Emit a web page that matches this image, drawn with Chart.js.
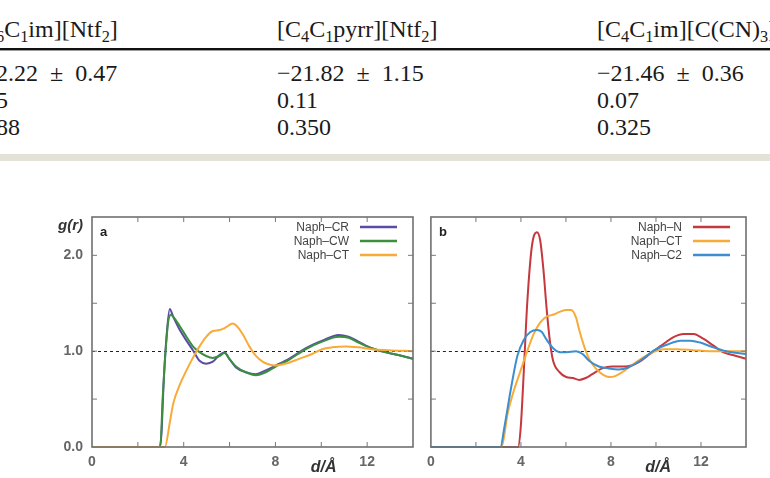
<!DOCTYPE html>
<html><head><meta charset="utf-8">
<script src="https://cdn.jsdelivr.net/npm/chart.js@4.4.1/dist/chart.umd.min.js"></script>
<style>
html,body{margin:0;padding:0;background:#fff;}
body{width:770px;height:478px;position:relative;overflow:hidden;font-family:"Liberation Serif","DejaVu Serif",serif;}
.t{position:absolute;font-size:24px;line-height:26px;color:#1a1a1a;white-space:nowrap;}
.t sub,.t .sb{font-size:0.68em;vertical-align:-0.28em;line-height:0;}
#rule1{position:absolute;left:0;top:48px;width:770px;height:2px;background:#111;}
#rule2{position:absolute;left:0;top:50px;width:770px;height:1px;background:#9a9a9a;}
#band{position:absolute;left:0;top:154px;width:770px;height:7px;background:#e4e2d7;}
#ca{position:absolute;left:0;top:190px;}
#cb{position:absolute;left:420px;top:190px;}
</style></head>
<body>
<div class="t" style="left:-4px;top:16px"><span class="sb">6</span>C<sub>1</sub>im][Ntf<sub>2</sub>]</div>
<div class="t" style="left:277px;top:16px">[C<sub>4</sub>C<sub>1</sub>pyrr][Ntf<sub>2</sub>]</div>
<div class="t" style="left:597px;top:16px">[C<sub>4</sub>C<sub>1</sub>im][C(CN)<sub>3</sub>]</div>
<div id="rule1"></div><div id="rule2"></div>
<div class="t" style="left:-4px;top:60px">2.22&ensp;±&ensp;0.47</div>
<div class="t" style="left:277px;top:60px">−21.82&ensp;±&ensp;1.15</div>
<div class="t" style="left:597px;top:60px">−21.46&ensp;±&ensp;0.36</div>
<div class="t" style="left:-4px;top:87px">5</div>
<div class="t" style="left:277px;top:87px">0.11</div>
<div class="t" style="left:597px;top:87px">0.07</div>
<div class="t" style="left:-4px;top:114px">88</div>
<div class="t" style="left:277px;top:114px">0.350</div>
<div class="t" style="left:597px;top:114px">0.325</div>
<div id="band"></div>
<canvas id="ca" width="420" height="288"></canvas>
<canvas id="cb" width="350" height="288"></canvas>
<script>
// ---- axis ticks ----
const xLabelTicks = [0, 4, 8, 12];
const xMinorTicks = [2, 4, 6, 8, 10, 12];
const yLabelTicks = [0, 1, 2];
const yMinorTicks = [0.5, 1, 1.5, 2];

// ---- panel a ----
const aLabels = ['Naph–CR', 'Naph–CW', 'Naph–CT'];
const aCRx = [0, 2.95, 3.03, 3.13, 3.25, 3.39, 3.54, 3.83, 4.12, 4.40, 4.69, 4.98, 5.27, 5.56, 5.78, 5.99, 6.28, 6.71, 7.15, 7.58, 8.01, 8.59, 9.31, 10.04, 10.76, 11.19, 11.62, 12.20, 12.78, 13.36, 14.0];
const aCRy = [0, 0, 0.14, 0.70, 1.15, 1.44, 1.36, 1.22, 1.11, 1.01, 0.90, 0.87, 0.89, 0.96, 0.99, 0.92, 0.83, 0.78, 0.76, 0.80, 0.85, 0.92, 1.03, 1.11, 1.17, 1.15, 1.10, 1.03, 0.99, 0.96, 0.92];
const aCWx = [0, 2.98, 3.08, 3.18, 3.32, 3.44, 3.54, 3.83, 4.12, 4.40, 4.69, 4.98, 5.27, 5.56, 5.78, 5.99, 6.28, 6.71, 7.15, 7.58, 8.01, 8.59, 9.31, 10.04, 10.76, 11.19, 11.62, 12.20, 12.78, 13.36, 14.0];
const aCWy = [0, 0, 0.50, 0.90, 1.30, 1.38, 1.36, 1.26, 1.15, 1.05, 0.99, 0.95, 0.93, 0.95, 0.98, 0.92, 0.84, 0.78, 0.75, 0.78, 0.84, 0.91, 1.02, 1.10, 1.15, 1.14, 1.09, 1.03, 0.99, 0.96, 0.92];
const aCTx = [0, 3.18, 3.39, 3.54, 3.83, 4.12, 4.40, 4.69, 4.98, 5.27, 5.56, 5.85, 6.14, 6.28, 6.57, 6.86, 7.15, 7.44, 7.73, 8.01, 8.45, 9.03, 9.60, 10.04, 10.47, 11.05, 11.62, 12.20, 12.90, 14.0];
const aCTy = [0, 0, 0.25, 0.45, 0.65, 0.80, 0.93, 1.05, 1.15, 1.21, 1.22, 1.25, 1.29, 1.27, 1.18, 1.05, 0.95, 0.89, 0.86, 0.85, 0.87, 0.92, 0.97, 1.02, 1.04, 1.05, 1.04, 1.02, 1.01, 1.00];

// ---- panel b ----
const bLabels = ['Naph–N', 'Naph–CT', 'Naph–C2'];
const bNx = [0, 3.87, 3.99, 4.13, 4.28, 4.49, 4.71, 4.86, 5.00, 5.14, 5.29, 5.43, 5.72, 6.01, 6.30, 6.59, 6.88, 7.17, 7.61, 8.04, 8.62, 9.20, 9.78, 10.36, 10.80, 11.23, 11.67, 12.10, 12.54, 12.97, 13.41, 14.0];
const bNy = [0, 0, 0.20, 0.80, 1.50, 2.10, 2.24, 2.15, 1.85, 1.45, 1.10, 0.90, 0.78, 0.73, 0.72, 0.70, 0.72, 0.76, 0.82, 0.84, 0.84, 0.88, 0.98, 1.08, 1.15, 1.18, 1.18, 1.13, 1.06, 0.99, 0.96, 0.92];
const bCTx = [0, 3.14, 3.41, 3.70, 3.99, 4.28, 4.57, 4.86, 5.14, 5.43, 5.72, 6.01, 6.23, 6.45, 6.59, 6.81, 7.03, 7.32, 7.61, 7.90, 8.19, 8.62, 9.20, 9.78, 10.36, 10.94, 11.67, 12.39, 14.0];
const bCTy = [0, 0, 0.35, 0.60, 0.80, 1.00, 1.18, 1.30, 1.36, 1.38, 1.41, 1.43, 1.43, 1.35, 1.22, 1.05, 0.92, 0.82, 0.76, 0.73, 0.74, 0.80, 0.90, 0.98, 1.02, 1.02, 1.01, 1.00, 1.00];
const bC2x = [0, 3.09, 3.26, 3.55, 3.84, 4.13, 4.42, 4.71, 4.93, 5.14, 5.43, 5.72, 6.01, 6.45, 6.74, 7.03, 7.46, 7.90, 8.33, 8.77, 9.35, 9.93, 10.51, 11.09, 11.52, 11.96, 12.54, 13.12, 14.0];
const bC2y = [0, 0, 0.20, 0.60, 0.95, 1.12, 1.20, 1.22, 1.20, 1.12, 1.03, 0.99, 0.99, 1.00, 0.97, 0.90, 0.84, 0.82, 0.81, 0.83, 0.91, 1.01, 1.07, 1.11, 1.11, 1.09, 1.04, 1.00, 0.97];

const C_PURPLE = '#5a4ca6', C_GREEN = '#3b8f3f', C_ORANGE = '#f8ab36', C_RED = '#c4383e', C_BLUE = '#3b8ecf';
const SANS = '"Liberation Sans", Arial, sans-serif';

function pts(xs, ys) { return xs.map((x, i) => ({x: x, y: ys[i]})); }
function ds(label, xs, ys, color, order) {
  return {label, data: pts(xs, ys), borderColor: color, backgroundColor: color, borderWidth: 2,
    pointRadius: 0, fill: false, cubicInterpolationMode: 'monotone', order, clip: 3};
}

function panelPlugin(letter, showYLabel) {
  return {
    id: 'panel' + letter,
    beforeDatasetsDraw(chart) {
      const {ctx, chartArea: a, scales: {y}} = chart;
      const py = Math.round(y.getPixelForValue(1)) + 0.5;
      ctx.save();
      ctx.strokeStyle = '#222'; ctx.lineWidth = 1; ctx.setLineDash([3, 3]);
      ctx.beginPath(); ctx.moveTo(a.left, py); ctx.lineTo(a.right, py); ctx.stroke();
      ctx.restore();
    },
    afterDatasetsDraw(chart) {
      const {ctx, chartArea: a, scales: {x, y}} = chart;
      ctx.save();
      ctx.strokeStyle = '#707070'; ctx.lineWidth = 1.6;
      ctx.strokeRect(a.left, a.top, a.right - a.left, a.bottom - a.top);
      ctx.lineWidth = 1; ctx.strokeStyle = '#777';
      ctx.beginPath();
      xMinorTicks.forEach(v => { const px = x.getPixelForValue(v);
        ctx.moveTo(px, a.bottom); ctx.lineTo(px, a.bottom - 5);
        ctx.moveTo(px, a.top); ctx.lineTo(px, a.top + 5); });
      yMinorTicks.forEach(v => { const py = y.getPixelForValue(v);
        ctx.moveTo(a.left, py); ctx.lineTo(a.left + 5, py);
        ctx.moveTo(a.right, py); ctx.lineTo(a.right - 5, py); });
      ctx.stroke();
      ctx.font = '12px ' + SANS;
      ctx.textAlign = 'right'; ctx.textBaseline = 'middle'; ctx.fillStyle = '#444';
      chart.data.datasets.forEach((d, i) => {
        const ly = a.top + 10 + i * 14;
        const x1 = a.right - 16, x0 = x1 - 37;
        ctx.fillText(d.label, x0 - 11, ly + 0.5);
        ctx.strokeStyle = d.borderColor; ctx.lineWidth = 2.5;
        ctx.beginPath(); ctx.moveTo(x0, ly); ctx.lineTo(x1, ly); ctx.stroke();
      });
      ctx.font = 'bold 13px ' + SANS;
      ctx.textAlign = 'left'; ctx.fillStyle = '#222';
      ctx.fillText(letter, a.left + 8, a.top + 15);
      if (showYLabel) {
        ctx.font = 'italic bold 15px ' + SANS;
        ctx.textAlign = 'right'; ctx.fillStyle = '#333';
        ctx.fillText('g(r)', a.left - 9, a.top + 9);
      }
      ctx.font = 'italic bold 16px ' + SANS;
      ctx.textAlign = 'center'; ctx.fillStyle = '#333';
      ctx.fillText('d/Å', x.getPixelForValue(10.1), a.bottom + 21);
      ctx.restore();
    }
  };
}

function makeChart(id, datasets, letter, showY, yWidth, rightPad) {
  return new Chart(document.getElementById(id), {
    type: 'line',
    data: {datasets},
    options: {
      responsive: false, animation: false, devicePixelRatio: 1,
      layout: {padding: {top: 27, right: rightPad, left: 0, bottom: 0}},
      plugins: {legend: {display: false}, tooltip: {enabled: false}},
      scales: {
        x: {type: 'linear', min: 0, max: 14,
          grid: {display: false, drawTicks: false}, border: {display: false},
          ticks: {stepSize: 2, autoSkip: false, maxRotation: 0, padding: 7, color: '#666',
            font: {family: SANS, size: 14, weight: 'bold'},
            callback: v => xLabelTicks.includes(v) ? String(v) : ''},
          afterFit: s => { s.height = 31; }},
        y: {type: 'linear', min: 0, max: 2.4,
          grid: {display: false, drawTicks: false}, border: {display: false},
          ticks: {display: showY, stepSize: 0.5, autoSkip: false, padding: 9, color: '#666',
            font: {family: SANS, size: 14, weight: 'bold'},
            callback: v => yLabelTicks.includes(v) ? v.toFixed(1) : ''},
          afterFit: s => { s.width = yWidth; }}
      }
    },
    plugins: [panelPlugin(letter, showY)]
  });
}

makeChart('ca', [
  ds(aLabels[0], aCRx, aCRy, C_PURPLE, 3),
  ds(aLabels[1], aCWx, aCWy, C_GREEN, 2),
  ds(aLabels[2], aCTx, aCTy, C_ORANGE, 1)
], 'a', true, 92, 7);

makeChart('cb', [
  ds(bLabels[0], bNx, bNy, C_RED, 3),
  ds(bLabels[1], bCTx, bCTy, C_ORANGE, 2),
  ds(bLabels[2], bC2x, bC2y, C_BLUE, 1)
], 'b', false, 4, 24);
</script>
</body></html>
